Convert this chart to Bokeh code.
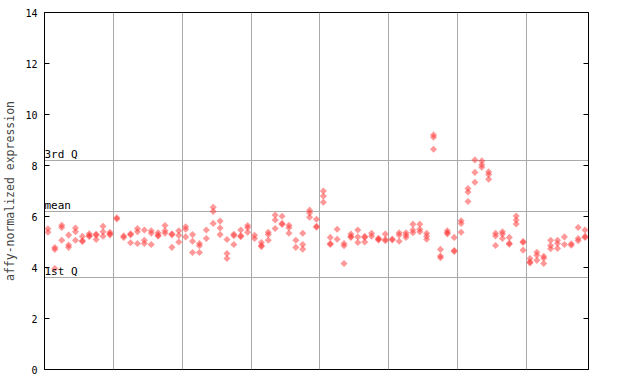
from bokeh.plotting import figure
from bokeh.models import FixedTicker, LinearAxis, Range1d, ColumnDataSource
from bokeh.core.properties import value
from bokeh.embed import file_html
from bokeh.resources import INLINE
import numpy as np

# expression values per sample column, grouped into 8 tissue groups
group_sizes = [10, 10, 10, 10, 10, 10, 10, 9]
columns = [
    # group 1
    [5.52, 5.38], [4.78, 4.71, 3.96], [5.66, 5.57, 5.07], [5.27, 4.88, 4.79], [5.55, 5.40, 5.07],
    [5.22, 5.05, 5.02], [5.32, 5.25, 5.22], [5.30, 5.27, 5.10], [5.62, 5.40, 5.23], [5.38, 5.32, 5.28],
    # group 2
    [5.95, 5.90], [5.24, 5.18], [5.32, 5.28, 4.97], [5.53, 5.40, 4.94], [5.47, 5.07, 4.94],
    [5.44, 5.34, 4.90], [5.36, 5.26, 5.24], [5.65, 5.44, 5.34], [5.32, 5.28, 4.79], [5.44, 5.26, 5.00],
    # group 3
    [5.60, 5.50, 5.20], [5.29, 5.03, 4.59], [4.94, 4.85, 4.59], [5.47, 5.14], [6.36, 6.20, 5.73],
    [5.82, 5.55, 5.29], [5.10, 4.55, 4.35], [5.30, 5.25, 4.90], [5.47, 5.25, 5.21], [5.65, 5.56, 5.38],
    # group 4
    [5.26, 5.14], [4.98, 4.86, 4.82], [5.38, 5.29, 5.07], [6.06, 5.86, 5.53], [6.01, 5.73, 5.69],
    [5.66, 5.56, 5.34], [5.07, 4.79], [5.34, 4.90, 4.72], [6.25, 6.14, 5.97], [5.89, 5.62, 5.58],
    # group 5
    [7.00, 6.80, 6.56], [5.18, 4.94, 4.90], [5.50, 5.11], [4.94, 4.85, 4.16], [5.31, 5.22, 5.18],
    [5.47, 5.20, 4.98], [5.22, 5.18, 5.00], [5.34, 5.23], [5.15, 5.11, 5.08], [5.31, 5.10, 5.05],
    # group 6
    [5.12, 5.08], [5.36, 5.27, 5.03], [5.36, 5.27, 5.18], [5.70, 5.47, 5.36], [5.70, 5.50, 5.40],
    [5.34, 5.23, 5.11], [9.20, 9.11, 8.64], [4.71, 4.45, 4.38], [5.44, 5.36, 5.32], [5.18, 4.67, 4.63],
    # group 7
    [5.83, 5.73, 5.38], [7.10, 6.96, 6.59], [8.22, 7.73, 7.34], [8.18, 8.03, 7.93], [7.75, 7.65, 7.46],
    [5.34, 5.24, 4.86], [5.40, 5.31, 5.14], [5.18, 4.95, 4.91], [6.02, 5.86, 5.71], [5.02, 4.98, 4.68],
    # group 8
    [4.35, 4.22, 4.18], [4.60, 4.48, 4.28], [4.44, 4.36, 4.16], [5.07, 4.86, 4.74], [5.07, 4.94, 4.75],
    [5.20, 4.90], [4.93, 4.87], [5.57, 5.14, 5.05], [5.47, 5.22, 5.18],
]
y_ticks = [0, 2, 4, 6, 8, 10, 12, 14]
stat_names = ["1st Q", "mean", "3rd Q"]
stat_values = [3.61, 6.20, 8.21]

xs, ys = [], []
for i, col in enumerate(columns):
    for v in col:
        xs.append(i)
        ys.append(v)

n = len(columns)
bounds = list(np.cumsum(group_sizes)[:-1] - 0.5)

MONO = "DejaVu Sans Mono"

p = figure(width=624, height=376, output_backend="svg", toolbar_location=None,
           x_range=Range1d(-0.5, n - 0.5), y_range=Range1d(0, 14),
           min_border_left=44, min_border_right=36, min_border_top=12, min_border_bottom=7)
p.background_fill_color = "white"
p.border_fill_color = "white"
p.outline_line_color = "black"
p.outline_line_width = 1
p.outline_line_alpha = 1

p.xaxis.visible = False
p.xgrid.ticker = FixedTicker(ticks=bounds)
p.xgrid.grid_line_color = "#aaaaaa"
p.xgrid.grid_line_width = 1
p.ygrid.ticker = FixedTicker(ticks=stat_values)
p.ygrid.grid_line_color = "#aaaaaa"
p.ygrid.grid_line_width = 1

ya = p.yaxis[0]
ya.ticker = FixedTicker(ticks=y_ticks)
ya.major_tick_in = 5
ya.major_tick_out = 0
ya.minor_tick_in = 0
ya.minor_tick_out = 0
ya.major_label_standoff = 7
ya.major_label_text_font = MONO
ya.major_label_text_font_size = "10px"
ya.major_label_text_color = "black"
ya.axis_label = "affy-normalized expression"
ya.axis_label_text_font = MONO
ya.axis_label_text_font_size = "11.5px"
ya.axis_label_text_font_style = "normal"
ya.axis_label_standoff = 5
ya.axis_line_color = "black"

ra = LinearAxis(ticker=FixedTicker(ticks=y_ticks))
ra.major_tick_in = 5
ra.major_tick_out = 0
ra.minor_tick_in = 0
ra.minor_tick_out = 0
ra.major_label_text_font_size = "0px"
ra.major_label_text_alpha = 0
ra.axis_line_color = "black"
p.add_layout(ra, "right")

src = ColumnDataSource(dict(x=xs, y=ys))
p.scatter("x", "y", source=src, marker="square", angle=np.pi / 4, size=5,
          fill_color="#ff3333", fill_alpha=0.5, line_color=None)

p.text(x=[-0.5] * 3, y=stat_values, text=stat_names, text_font=value(MONO),
       text_font_size="11px", text_baseline="bottom", text_align="left",
       text_color="black", y_offset=1)

open("out.html", "w").write(file_html(p, INLINE))
